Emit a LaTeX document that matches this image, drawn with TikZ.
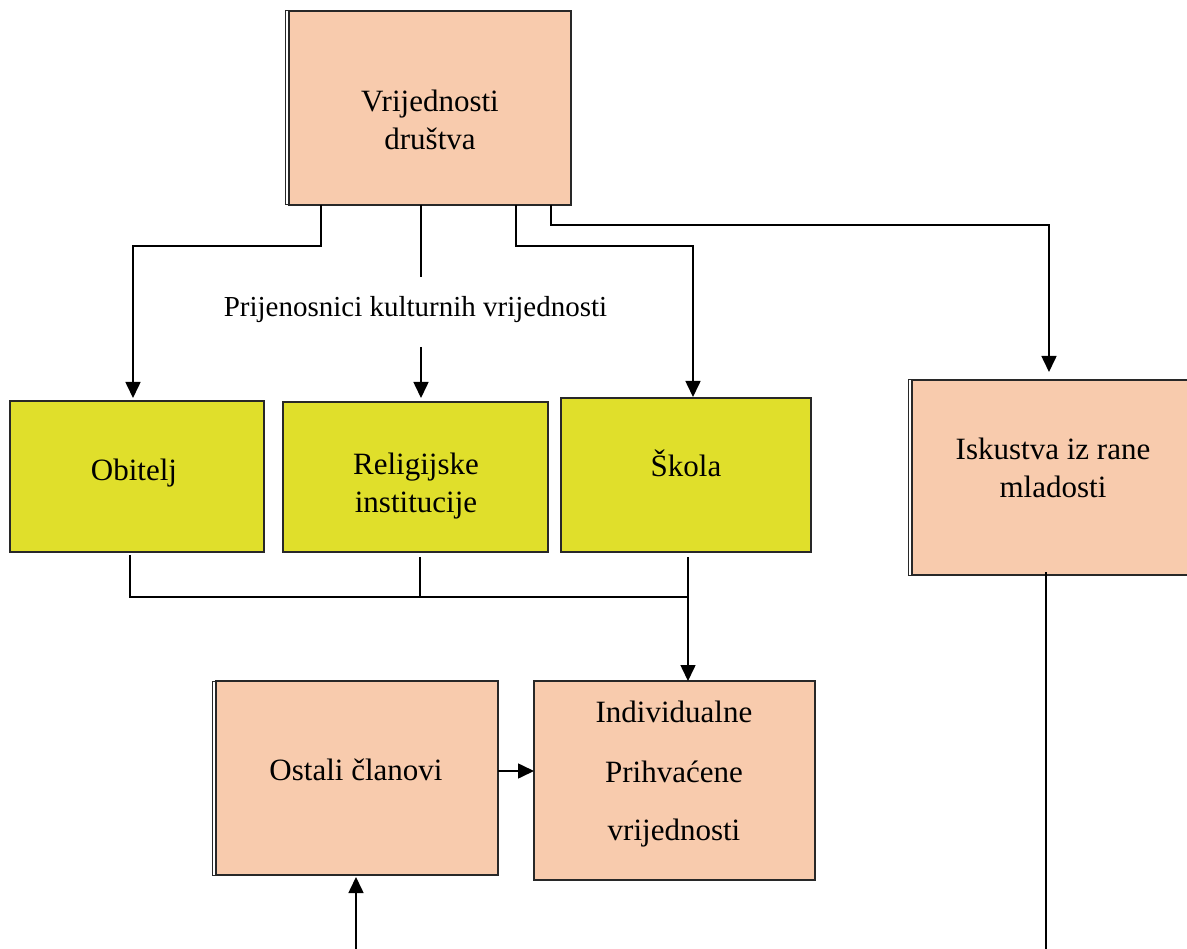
\documentclass[tikz,border=0pt]{standalone}
\usepackage{fontspec}
\setmainfont{Liberation Serif}
\usetikzlibrary{arrows.meta}
\definecolor{peach}{RGB}{248,203,173}
\definecolor{lime}{RGB}{224,223,43}
\definecolor{edge}{RGB}{40,40,40}
\begin{document}
\begin{tikzpicture}[x=1pt,y=-1pt,
  box/.style={draw=edge,line width=1.2pt,inner sep=0pt,outer sep=0pt},
  pbox/.style={box,fill=peach},
  ybox/.style={box,fill=lime},
  txt/.style={anchor=base,inner sep=0pt,font=\fontsize{31}{38}\selectfont},
  conn/.style={line width=1.6pt,black},
  arr/.style={conn,-{Triangle[length=16pt,width=15pt]}}]
\useasboundingbox (0,0) rectangle (1187,949);
\fill[white] (0,0) rectangle (1187,949);
% boxes
\node[pbox,minimum width=282,minimum height=194] (vd) at (430,108) {};
\draw[edge,line width=1pt] (289,11) -- (285,11) -- (285,205) -- (289,205);
\node[ybox,minimum width=254,minimum height=151] (ob) at (137,476.5) {};
\node[ybox,minimum width=265,minimum height=150] (ri) at (415.5,477) {};
\node[ybox,minimum width=250,minimum height=154] (sk) at (686,475) {};
\node[pbox,minimum width=282,minimum height=195] (is) at (1053,477.5) {};
\draw[edge,line width=1pt] (912,380) -- (908,380) -- (908,575) -- (912,575);
\node[pbox,minimum width=282,minimum height=194] (os) at (357,778) {};
\draw[edge,line width=1pt] (216,681) -- (212,681) -- (212,875) -- (216,875);
\node[pbox,minimum width=281,minimum height=199] (iv) at (674.5,780.5) {};
% texts
\node[txt] (t1) at (430,112) {Vrijednosti};
\node[txt] (t2) at (430,150) {društva};
\node[txt,font=\fontsize{29}{35}\selectfont] (lab) at (415.5,317) {Prijenosnici kulturnih vrijednosti};
\node[txt] (t3) at (134,481) {Obitelj};
\node[txt] (t4) at (416,475) {Religijske};
\node[txt] (t5) at (416,513) {institucije};
\node[txt] (t6) at (686,477) {Škola};
\node[txt] (t7) at (1053,460) {Iskustva iz rane};
\node[txt] (t8) at (1053,498) {mladosti};
\node[txt] (t9) at (356,780) {Ostali članovi};
\node[txt] (t10) at (674,722) {Individualne};
\node[txt] (t11) at (674,782) {Prihvaćene};
\node[txt] (t12) at (674,840) {vrijednosti};
% helper coordinates
\coordinate (c1) at (321,246); \coordinate (c1a) at (133,246);
\coordinate (c2) at (421,277); \coordinate (c2b) at (421,347);
\coordinate (c3) at (516,246); \coordinate (c3a) at (693,246);
\coordinate (c4) at (551,225); \coordinate (c4a) at (1049,225);
\coordinate (c5) at (130,597); \coordinate (c6) at (420,597); \coordinate (c7) at (688,597);
\coordinate (c8) at (0,771);
\coordinate (b1) at (356,949); \coordinate (b2) at (1046,949);
% connectors
\draw[arr,shorten >=3pt] (vd.south -| c1) -- (c1) -- (c1a) -- (ob.north -| c1a);
\draw[conn] (vd.south -| c2) -- (c2);
\draw[arr,shorten >=4pt] (c2b) -- (ri.north -| c2b);
\draw[arr,shorten >=1pt] (vd.south -| c3) -- (c3) -- (c3a) -- (sk.north -| c3a);
\draw[arr,shorten >=8pt] (vd.south -| c4) -- (c4) -- (c4a) -- (is.north -| c4a);
\draw[conn,shorten <=3pt] (ob.south -| c5) -- (c5) -- (c7);
\draw[conn,shorten <=5pt] (ri.south -| c6) -- (c6);
\draw[arr,shorten <=5pt] (sk.south -| c7) -- (iv.north -| c7);
\draw[arr] (os.east |- c8) -- (iv.west |- c8);
\draw[arr,shorten >=2pt] (b1) -- (os.south -| b1);
\draw[conn,shorten <=-3pt] (is.south -| b2) -- (b2);
\end{tikzpicture}
\end{document}
